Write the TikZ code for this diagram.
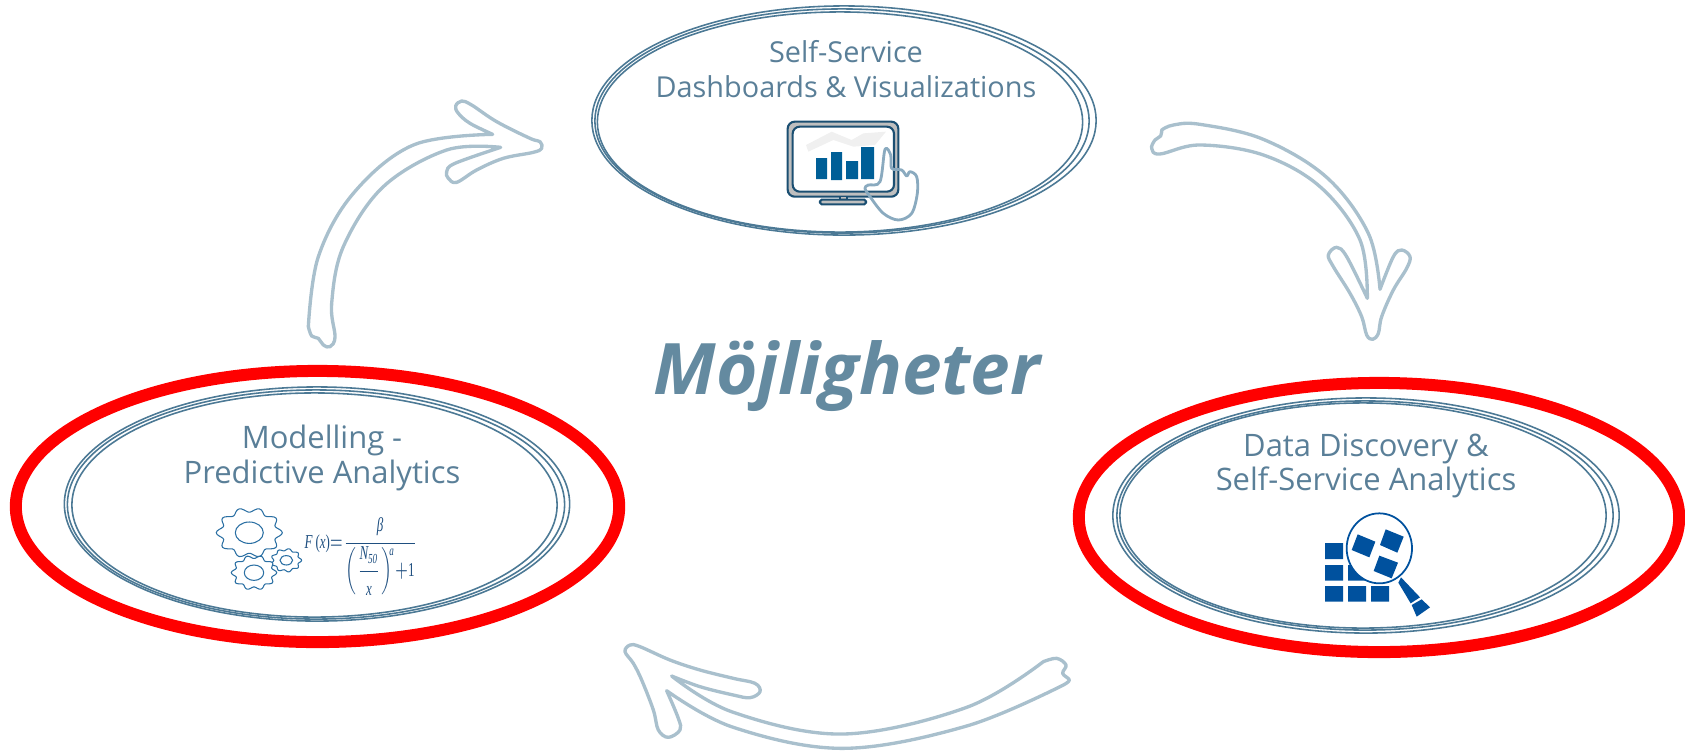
\documentclass[tikz,border=0pt]{standalone}
\usepackage[no-math]{fontspec}
\usepackage{amsmath}
\usepackage{graphicx}
\setmainfont{Open Sans}
\newfontfamily\formulafont{Liberation Serif}
\usetikzlibrary{shapes.geometric}
\definecolor{ringblue}{HTML}{4C7995}
\definecolor{labelblue}{HTML}{5A7F98}
\definecolor{titleblue}{HTML}{648AA0}
\definecolor{arrowblue}{HTML}{A9C0CD}
\definecolor{iconblue}{HTML}{005F97}
\definecolor{iconnavy}{HTML}{1B4F72}
\definecolor{handblue}{HTML}{8AAABF}
\definecolor{gearblue}{HTML}{2A6FA3}
\definecolor{formulablue}{HTML}{1F4F80}
\definecolor{datablue}{HTML}{00519E}
\newcommand{\gearshape}[7]{% x, y, rx, ry, hole rx, hole ry, teeth
    \draw[gearline, fill=white] plot[smooth cycle, domain=0:356, samples=90]
        ({#1+#3*(0.91+0.09*cos(#7*\x))*cos(\x)},{#2+#4*(0.91+0.09*cos(#7*\x))*sin(\x)});
    \draw[gearline] (#1,#2) ellipse ({#5} and {#6});
}
\newcommand{\fm}[1]{\text{\formulafont\itshape #1}}
\newcommand{\fr}[1]{\text{\formulafont #1}}
\begin{document}
\begin{tikzpicture}[
            x=0.01cm, y=-0.01cm,
            redring/.style={ellipse, draw=red, line width=0.12cm, inner sep=0pt, outer sep=0pt},
            ringline/.style={ellipse, draw=ringblue, line width=0.45pt, inner sep=0pt, outer sep=0pt},
            boxlabel/.style={align=center, text=labelblue, font=\fontsize{8.2}{10}\selectfont},
            widelabel/.style={boxlabel, font=\fontsize{8.8}{9.8}\selectfont},
            handarrow/.style={draw=arrowblue, line width=0.95pt, line join=round, fill=white},
            gearline/.style={draw=gearblue, line width=0.3pt},
            databox/.style={fill=datablue, draw=none}
        ]
        \useasboundingbox (0,0) rectangle (1685,751);
        % top
        \node[ringline, minimum width=5.04cm, minimum height=2.29cm] (dashouter) at (844,120.5) {};
        \node[ringline, minimum width=4.94cm, minimum height=2.24cm] (dashmid) at (842,121) {};
        \node[ringline, minimum width=4.85cm, minimum height=2.20cm] (dashinner) at (840,122) {};
        \node[boxlabel] (dashlabel) at (846,69) {Self-Service\\Dashboards \& Visualizations};
        % left
        \node[redring, minimum width=6.03cm, minimum height=2.71cm] (modelred) at (317.5,506.5) {};
        \node[ringline, minimum width=5.05cm, minimum height=2.34cm] (modelouter) at (317,504) {};
        \node[ringline, minimum width=4.97cm, minimum height=2.29cm] (modelmid) at (316,504.5) {};
        \node[ringline, minimum width=4.85cm, minimum height=2.24cm] (modelinner) at (314.5,505) {};
        \node[widelabel] (modellabel) at (322,458) {Modelling -\\Predictive Analytics};
        % right
        \node[redring, minimum width=6.00cm, minimum height=2.69cm] (datared) at (1379,517.5) {};
        \node[ringline, minimum width=5.06cm, minimum height=2.35cm] (dataouter) at (1366,515.5) {};
        \node[ringline, minimum width=4.96cm, minimum height=2.29cm] (datamid) at (1365,515.5) {};
        \node[ringline, minimum width=4.86cm, minimum height=2.25cm] (datainner) at (1363,515.5) {};
        \node[widelabel] (datalabel) at (1366,466) {Data Discovery \&\\Self-Service Analytics};
        % title
        \node[text=titleblue, font=\fontsize{20.2}{22}\selectfont\bfseries\itshape] (title) at (847,376) {Möjligheter};
        % arrow right
        \begin{scope}[shift={(1130,100)}, scale=1/3]
        \draw[handarrow] plot[smooth, tension=0.6] coordinates {(95,90) (130,75) (210,73) (400,118) (590,232) (715,400) (750,568)}
            -- plot[smooth, tension=0.6] coordinates {(750,568) (790,470) (815,450) (840,470) (830,505) (790,570) (755,650) (745,700) (728,718) (710,705) (695,650) (660,580) (610,500) (595,465) (620,442) (650,470) (712,595)}
            -- plot[smooth, tension=0.6] coordinates {(712,595) (690,420) (570,260) (400,165) (210,135) (90,162) (65,145) (75,120) (92,108) (95,90)} -- cycle;
        \end{scope}
        % arrow bottom
        \begin{scope}[shift={(600,630)}, scale=1/3]
        \draw[handarrow] plot[smooth, tension=0.6] coordinates {(215,138) (300,170) (400,195) (450,203) (480,185) (465,160) (400,145) (300,120) (210,90) (120,50) (90,45) (75,65) (100,100) (125,150) (160,240) (175,300) (205,322) (240,300) (235,265) (200,182)}
            -- plot[smooth, tension=0.6] coordinates {(200,182) (400,292) (730,355) (1100,288) (1390,165)}
            -- plot[smooth, tension=0.6] coordinates {(1390,165) (1408,150) (1388,130) (1398,105) (1370,85) (1330,95)}
            -- plot[smooth, tension=0.6] coordinates {(1330,95) (1100,232) (730,312) (400,247) (215,138)} -- cycle;
        \end{scope}
        % arrow left
        \begin{scope}[shift={(290,90)}, scale=1/3]
        \draw[handarrow] plot[smooth, tension=0.6] coordinates {(55,710) (85,500) (190,310) (370,165) (608,133)}
            -- plot[smooth, tension=0.6] coordinates {(608,133) (540,100) (505,70) (497,48) (515,33) (545,45) (620,95) (720,145) (750,155) (755,175) (730,187) (640,205) (560,240) (500,277) (475,265) (470,245) (495,220) (632,172)}
            -- plot[smooth, tension=0.6] coordinates {(632,172) (470,180) (280,290) (160,470) (125,640) (135,740) (120,770) (100,765) (85,745) (65,738) (55,710)} -- cycle;
        \end{scope}
        % monitor
        \begin{scope}[shift={(720,90)}, scale=1/3]
        \fill[black!6] (258,165) -- (335,125) -- (395,150) -- (430,130) -- (498,125) -- (465,165) -- (400,170) -- (340,150) -- (265,185) -- cycle;
        \draw[iconnavy, line width=0.6pt, fill=black!25, rounded corners=2pt, even odd rule] (203,95) rectangle (535,320) (218,110) rectangle (522,305);
        \fill[black!25] (360,320) rectangle (380,330);
        \draw[iconnavy, line width=0.5pt] (360,320) -- (360,330) (380,320) -- (380,330);
        \draw[iconnavy, line width=0.6pt, fill=black!25, rounded corners=0.5pt] (300,329) rectangle (438,343);
        \fill[iconblue] (288,204) rectangle (321,267) (333,186) rectangle (366,270) (378,213) rectangle (414,267) (423,171) rectangle (462,267);
        \draw[handblue, line width=0.8pt, line join=round] plot[smooth cycle, tension=0.55] coordinates {(495,178) (480,275) (445,285) (435,295) (450,320) (490,370) (535,390) (575,370) (592,310) (590,260) (570,245) (560,258) (545,240) (515,235) (512,195)};
        \end{scope}
        % gears
        \gearshape{249.3}{532.7}{33}{25}{14}{10.7}{10}
        \gearshape{286.3}{560.3}{15.3}{11.7}{6.3}{4.7}{9}
        \gearshape{254}{572.7}{22.7}{17.3}{9.7}{7.7}{10}
        \node[text=formulablue, inner sep=0pt, font=\fontsize{5.6}{7}\selectfont] (formula) at (361,556.5) {\scalebox{0.66}[1]{$\fm{F}\,\fr{(}\fm{x}\fr{)}{=}\dfrac{\fm{β}}{\left(\dfrac{\fm{N}_{\fm{50}}}{\fm{x}}\right)^{\!\fm{a}}\!{+}\fr{1}}$}};
        % magnifier
        \begin{scope}[shift={(1290,490)}, scale=1/3]
        \fill[databox] (105,288) rectangle (159,335) (174,288) rectangle (228,335) (243,288) rectangle (297,335)
            (105,225) rectangle (159,272) (174,225) rectangle (228,272) (105,159) rectangle (159,207);
        \draw[datablue, line width=0.5pt, fill=white] (268,175) ellipse (98 and 105);
        \fill[databox] (203,133) -- (256,155) -- (238,202) -- (185,180) -- cycle
            (287,118) -- (341,140) -- (322,188) -- (270,165) -- cycle
            (268,197) -- (324,218) -- (305,265) -- (251,243) -- cycle;
        \fill[databox] (333,262) -- (390,322) -- (362,340) -- (325,278) -- cycle
            (395,328) -- (420,352) -- (380,380) -- (365,345) -- cycle;
        \end{scope}
\end{tikzpicture}
\end{document}
